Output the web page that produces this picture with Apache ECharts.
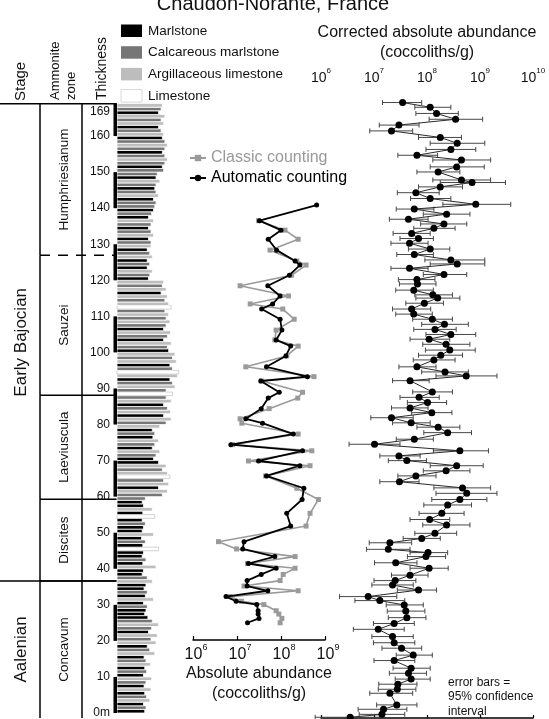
<!DOCTYPE html>
<html><head><meta charset="utf-8">
<script src="https://cdn.jsdelivr.net/npm/echarts@6/dist/echarts.min.js"></script>
<style>html,body{margin:0;padding:0;background:#fff;overflow:hidden}#c{width:549px;height:719px}</style>
</head><body><div id="c"></div>
<script>
const FONT = '"Liberation Sans", Arial, Helvetica, sans-serif';

// ---------- Stratigraphic framework (thickness in m) ----------
const stageNames = ['Aalenian', 'Early Bajocian'];
const stageBase  = [0, 37.7];
const stageTop   = [37.7, 169];
const zoneNames  = ['Concavum', 'Discites', 'Laeviuscula', 'Sauzei', 'Humphriesianum'];
const zoneBase   = [0, 37.7, 60.2, 88.8, 127.3];
const zoneTop    = [37.7, 60.2, 88.8, 127.3, 169];
const zoneBaseDashed = [false, false, false, false, true];
const thicknessTicks = [0,10,20,30,40,50,60,70,80,90,100,110,120,130,140,150,160,169];
const scaleBarBase = [0, 20, 40, 60, 80, 100, 120, 140, 160];
const scaleBarTop  = [10, 30, 50, 70, 90, 110, 130, 150, 169];

// ---------- Lithology (1 m beds from 0 m upward) ----------
const lithNames  = ['Marlstone', 'Calcareous marlstone', 'Argillaceous limestone', 'Limestone'];
const lithColors = ['#000000', '#767676', '#bdbdbd', '#ffffff'];
const lithCode = [
  0,1,0,2,1,0,2,0,1,2,0,1,0,2,1,0,
  2,1,0,2,1,2,0,1,2,1,0,
  0,0,1,0,2,0,1,0,0,2,1,
  0,0,2,0,1,0,0,3,0,1,0,2,0,0,1,0,3,0,2,0,0,1,
  1,2,0,2,1,3,2,1,2,0,
  0,1,2,0,1,2,0,1,0,2,
  1,2,0,2,1,0,2,1,3,1,
  2,1,0,2,3,1,0,2,1,2,0,
  1,2,0,1,2,0,1,2,1,
  2,1,3,2,1,2,0,2,1,2,
  0,1,2,0,1,0,2,1,0,2,
  1,0,2,1,0,1,2,0,1,
  0,1,1,0,2,1,0,1,2,0,1,
  1,0,1,2,1,0,1,2,1,0,
  2,1,0,2,1,2,0,1,2
];
const lithWidth = [
  44,46,42,52,47,44,54,43,46,55,42,47,44,53,46,43,
  60,52,48,62,54,64,50,55,66,56,49,
  44,46,48,42,58,45,48,43,46,56,48,
  40,42,62,41,46,40,42,66,41,45,39,58,40,42,45,40,60,41,56,42,40,45,
  72,80,66,82,74,84,80,72,78,66,
  58,62,68,56,60,66,57,60,56,68,
  78,86,74,85,80,74,86,78,88,78,
  92,88,84,96,98,88,84,94,88,92,82,
  80,86,74,80,85,74,78,84,78,
  82,76,86,82,76,80,70,78,72,74,
  50,52,56,48,52,48,56,52,48,54,
  54,50,58,54,50,54,58,50,55,
  58,60,62,58,66,62,60,62,68,62,64,
  74,72,76,80,76,72,76,80,76,72,
  74,70,66,74,70,76,66,70,72
];

// ---------- Absolute abundance, log10(coccoliths/g) ----------
const midThickness = [141.1,136.8,134.2,131.7,128.7,125.7,124.6,121.8,118.9,116.1,113.9,112.5,109.7,106.7,104.0,102.3,99.6,96.6,93.9,92.7,89.6,88.0,85.1,82.3,81.1,78.1,75.2,73.5,70.7,69.4,66.6,63.2,60.1,56.3,52.8,48.5,46.5,44.4,42.5,41.2,39.5,37.8,36.3,35.0,33.4,32.1,31.2,29.5,28.6,27.4,26.2];
const automaticLog = [8.81,7.51,8.00,7.71,7.90,8.32,8.43,8.19,7.70,7.98,7.81,7.56,7.98,8.02,7.89,8.22,8.11,7.67,8.60,7.54,7.96,7.71,7.55,7.20,7.58,8.28,6.86,8.49,7.49,8.43,7.67,8.52,8.48,8.13,8.22,7.16,7.13,7.86,7.26,7.89,7.55,7.23,7.23,7.70,6.75,6.98,7.45,7.48,7.48,7.50,7.24];
const classicLog   = [null,7.49,8.09,8.39,7.75,8.36,8.57,8.24,7.07,8.17,7.30,8.04,8.30,7.89,7.86,8.39,8.13,7.20,8.75,7.56,8.49,8.38,7.73,7.07,7.11,8.39,6.90,8.70,7.26,8.66,7.65,8.36,8.85,8.66,8.57,6.58,6.99,8.32,7.24,8.32,8.05,7.98,7.16,8.39,6.84,7.10,7.61,7.89,7.95,8.02,7.98];

// ---------- Corrected absolute abundance, log10(coccoliths/g) with 95% CI ----------
const corrThickness = [169.3,168.0,166.3,164.7,163.1,161.5,159.7,158.1,156.4,154.8,153.5,151.6,150.2,148.0,147.3,146.1,144.5,142.9,141.3,140.0,138.6,137.2,135.9,134.7,133.3,131.9,130.6,129.0,127.5,126.0,124.9,123.7,122.0,120.6,119.4,117.7,116.4,115.5,114.1,112.5,111.1,109.7,108.3,106.9,105.5,104.2,102.8,101.2,99.8,98.5,96.6,95.2,94.1,92.8,89.7,88.2,86.8,85.3,84.0,82.6,81.2,80.0,78.5,76.7,75.3,73.5,72.1,70.8,69.4,68.0,66.6,65.0,63.3,61.8,60.1,58.6,56.3,54.6,53.1,50.8,49.4,48.2,46.4,45.5,44.4,42.7,41.2,39.3,37.8,36.6,35.2,33.4,32.3,31.1,29.4,27.6,26.0,24.4,22.4,20.7,19.2,17.3,15.8,13.7,12.3,10.7,9.3,7.9,6.8,3.6,2.4,1.0,0.2];
const corrLog  = [7.54,8.06,8.18,8.54,7.47,7.33,8.25,8.57,8.45,7.81,8.65,8.56,8.21,8.65,8.85,8.25,7.79,8.06,8.92,7.76,8.37,7.65,8.32,8.13,7.71,7.84,7.67,8.06,7.76,8.45,8.57,7.67,8.32,7.81,7.82,7.75,8.11,8.20,7.95,7.71,7.75,8.10,8.33,8.15,8.45,8.04,8.36,8.43,8.26,8.13,7.81,8.34,8.74,7.68,8.10,7.85,8.01,7.68,8.09,7.33,7.70,8.21,8.39,7.76,7.01,8.62,7.47,7.62,8.56,8.36,7.79,7.48,8.67,8.75,8.62,8.39,8.28,8.05,8.37,8.15,7.90,7.30,7.27,8.02,7.98,7.41,8.04,7.68,7.40,7.35,7.84,6.89,7.11,7.57,7.60,7.62,7.38,7.08,7.35,7.38,7.52,7.74,7.38,7.70,7.65,7.70,7.45,7.44,7.30,7.43,7.18,7.15,6.55];
const corrLow  = [7.16,7.77,7.79,8.04,7.10,6.92,7.84,8.06,7.98,7.45,8.11,8.06,7.81,8.11,8.25,7.84,7.44,7.69,8.30,7.42,7.93,7.29,7.88,7.75,7.36,7.49,7.32,7.65,7.43,7.96,8.06,7.32,7.93,7.46,7.48,7.41,7.77,7.79,7.60,7.35,7.41,7.73,7.90,7.75,7.98,7.68,7.92,7.97,7.84,7.74,7.47,7.90,8.17,7.35,7.73,7.49,7.63,7.33,7.71,6.94,7.35,7.81,7.94,7.42,6.53,8.12,7.11,7.27,8.06,7.93,7.45,7.11,8.13,8.17,8.09,7.94,7.85,7.68,7.92,7.77,7.55,6.91,6.86,7.68,7.63,7.01,7.68,7.33,7.00,6.96,7.44,6.35,6.64,7.23,7.25,7.27,6.99,6.61,6.96,6.99,7.15,7.42,7.00,7.36,7.29,7.40,7.09,7.08,6.92,7.05,6.70,6.72,5.89];
const corrHigh = [7.90,8.45,8.59,9.05,7.85,7.73,8.65,9.09,8.92,8.20,9.20,9.08,8.62,9.20,9.48,8.67,8.23,8.45,9.58,8.13,8.81,8.02,8.75,8.53,8.06,8.12,8.02,8.43,8.12,9.09,9.09,8.02,8.75,8.15,8.17,8.12,8.48,8.62,8.31,8.07,8.10,8.48,8.78,8.55,8.92,8.43,8.81,8.91,8.67,8.53,8.17,8.78,9.32,8.04,8.48,8.23,8.37,8.02,8.47,7.74,8.06,8.62,8.84,8.12,7.49,9.16,7.87,7.99,9.06,8.81,8.17,7.85,9.20,9.32,9.13,8.84,8.70,8.43,8.81,8.56,8.25,7.71,7.68,8.39,8.35,7.81,8.40,8.02,7.79,7.74,8.18,7.43,7.58,7.93,7.96,7.98,7.76,7.57,7.74,7.77,7.90,8.10,7.77,8.06,7.99,8.06,7.81,7.79,7.73,7.81,7.62,7.58,7.18];

const titleText = 'Chaudon-Norante, France';

// ---------- helpers ----------
const chart = echarts.init(document.getElementById('c'), null, {renderer: 'canvas'});
const f = (s) => s + 'px ' + FONT;
const T = (text, x, y, size, opts) => Object.assign({
  type: 'text', x: x, y: y,
  style: Object.assign({text: text, font: f(size), fill: '#111', align: 'left', verticalAlign: 'middle',
    textAlign: 'left', textVerticalAlign: 'middle'}, (opts && opts.style) || {})
}, (opts && opts.el) || {});

function renderStage(params, api) {
  const i = params.dataIndex;
  const b = api.value(0), t = api.value(1);
  const yb = api.coord([0, b])[1], yt = api.coord([0, t])[1];
  const x0 = api.coord([0, b])[0], x1 = api.coord([117, b])[0], xt = api.coord([21, b])[0];
  const ch = [{type: 'text', x: xt, y: (yb + yt) / 2, rotation: Math.PI / 2,
    style: {text: stageNames[i], font: f(17), fill: '#111', align: 'center', verticalAlign: 'middle', textAlign: 'center', textVerticalAlign: 'middle'}}];
  if (b > 0) ch.push({type: 'line', shape: {x1: x0, y1: yb, x2: x1, y2: yb}, style: {stroke: '#000', lineWidth: 1.5}});
  if (i === stageNames.length - 1) ch.push({type: 'line', shape: {x1: x0, y1: yt, x2: x1, y2: yt}, style: {stroke: '#000', lineWidth: 1.5}});
  return {type: 'group', children: ch};
}
function renderZone(params, api) {
  const i = params.dataIndex;
  const b = api.value(0), t = api.value(1);
  const yb = api.coord([0, b])[1], yt = api.coord([0, t])[1];
  const xa = api.coord([40, b])[0], xb = api.coord([82, b])[0], xe = api.coord([117, b])[0], xt = api.coord([64, b])[0];
  const ch = [
    {type: 'text', x: xt, y: (yb + yt) / 2, rotation: Math.PI / 2,
      style: {text: zoneNames[i], font: f(13.5), fill: '#111', align: 'center', verticalAlign: 'middle', textAlign: 'center', textVerticalAlign: 'middle'}},
    {type: 'line', shape: {x1: xa, y1: yt, x2: xa, y2: yb}, style: {stroke: '#000', lineWidth: 1.5}},
    {type: 'line', shape: {x1: xb, y1: yt, x2: xb, y2: yb}, style: {stroke: '#000', lineWidth: 1.5}}
  ];
  if (b > 0) ch.push({type: 'line', shape: {x1: xa, y1: yb, x2: xe, y2: yb},
    style: {stroke: '#000', lineWidth: 1.5, lineDash: zoneBaseDashed[i] ? [10, 8] : null}});
  return {type: 'group', children: ch};
}
function renderScaleBar(params, api) {
  const p0 = api.coord([0, api.value(1)]), p1 = api.coord([0, api.value(0)]);
  return {type: 'rect', shape: {x: p0[0] - 3.5, y: p0[1], width: 3.5, height: p1[1] - p0[1]}, style: {fill: '#000'}};
}
function renderLith(params, api) {
  const b = api.value(0), w = api.value(1), c = api.value(2);
  const p0 = api.coord([0, b + 1]), p1 = api.coord([w, b]);
  return {type: 'rect', shape: {x: p0[0], y: p0[1], width: p1[0] - p0[0], height: p1[1] - p0[1]},
    style: {fill: lithColors[c], stroke: c === 3 ? '#c8c8c8' : '#ffffff', lineWidth: 0.8}};
}
function renderErr(params, api) {
  const lo = api.coord([api.value(0), api.value(2)]), hi = api.coord([api.value(1), api.value(2)]);
  const s = {stroke: '#474747', lineWidth: 1};
  return {type: 'group', children: [
    {type: 'line', shape: {x1: lo[0], y1: lo[1], x2: hi[0], y2: hi[1]}, style: s},
    {type: 'line', shape: {x1: lo[0], y1: lo[1] - 2.5, x2: lo[0], y2: lo[1] + 2.5}, style: s},
    {type: 'line', shape: {x1: hi[0], y1: hi[1] - 2.5, x2: hi[0], y2: hi[1] + 2.5}, style: s}
  ]};
}
const powLabel = (v) => '{b|10}{s|' + v + '}';

const hiddenY = (g) => ({gridIndex: g, type: 'value', min: 0, max: 170, show: false});

const graphic = [
  T(titleText, 273, 4.5, 20, {style: {align: 'center', textAlign: 'center'}}),
  T('Stage', 21, 101, 15, {el: {rotation: Math.PI / 2}}),
  T('Ammonite', 55, 100, 13, {el: {rotation: Math.PI / 2}}),
  T('zone', 71, 100, 13, {el: {rotation: Math.PI / 2}}),
  T('Thickness', 102, 100, 14, {el: {rotation: Math.PI / 2}}),
  T('error bars =\n95% confidence\ninterval', 448, 697, 12, {style: {lineHeight: 14.5}})
];
lithNames.forEach((n, i) => {
  graphic.push({type: 'rect', shape: {x: 121, y: 24.5 + i * 21.7, width: 21, height: 12.5},
    style: {fill: lithColors[i], stroke: i === 3 ? '#d8d8d8' : null, lineWidth: 1}});
  graphic.push(T(n, 148, 31 + i * 21.7, 13.5));
});

const option = {
  animation: false,
  backgroundColor: '#ffffff',
  textStyle: {fontFamily: FONT},
  grid: [
    {left: 0, top: 100, width: 117, height: 618},
    {left: 117, top: 100, width: 63, height: 618},
    {left: 193, top: 100, width: 132, height: 618},
    {left: 193, top: 600, width: 132, height: 40},
    {left: 321, top: 100, width: 212, height: 618}
  ],
  xAxis: [
    {gridIndex: 0, type: 'value', min: 0, max: 117, show: false},
    {gridIndex: 1, type: 'value', min: 0, max: 100, show: false},
    {gridIndex: 2, type: 'value', min: 6, max: 9, show: false},
    {gridIndex: 3, type: 'value', min: 6, max: 9, interval: 1, position: 'bottom',
      axisLine: {lineStyle: {color: '#000', width: 1.5}},
      axisTick: {inside: true, length: 4, lineStyle: {color: '#000', width: 1.2}},
      splitLine: {show: false},
      axisLabel: {margin: 3, formatter: powLabel, rich: {
        b: {fontSize: 16, fontFamily: FONT, color: '#111', lineHeight: 20, verticalAlign: 'bottom', padding: [0, 0, 0, 6]},
        s: {fontSize: 9, fontFamily: FONT, color: '#111', verticalAlign: 'top', lineHeight: 20}}},
      name: 'Absolute abundance\n(coccoliths/g)', nameLocation: 'middle', nameGap: 20,
      nameTextStyle: {fontSize: 16, fontFamily: FONT, color: '#111', lineHeight: 20}},
    {gridIndex: 4, type: 'value', min: 6, max: 10, interval: 1, position: 'top', offset: 9,
      axisLine: {lineStyle: {color: '#000', width: 1.5}},
      axisTick: {inside: false, length: 3, lineStyle: {color: '#000', width: 1.2}},
      splitLine: {show: false},
      axisLabel: {margin: 6, formatter: powLabel, rich: {
        b: {fontSize: 14, fontFamily: FONT, color: '#111', lineHeight: 18, verticalAlign: 'bottom'},
        s: {fontSize: 8, fontFamily: FONT, color: '#111', verticalAlign: 'top', lineHeight: 18}}},
      name: 'Corrected absolute abundance\n(coccoliths/g)', nameLocation: 'middle', nameGap: 26,
      nameTextStyle: {fontSize: 16, fontFamily: FONT, color: '#111', lineHeight: 20}}
  ],
  yAxis: [
    hiddenY(0),
    {gridIndex: 1, type: 'value', min: 0, max: 170,
      axisLine: {show: false}, axisTick: {show: false}, splitLine: {show: false},
      axisLabel: {customValues: thicknessTicks, margin: 7, fontSize: 12, color: '#111', fontFamily: FONT,
        formatter: (v) => v === 0 ? '0m' : (v === 169 ? '{t|169}' : String(v)),
        rich: {t: {fontSize: 12, color: '#111', fontFamily: FONT, padding: [16, 0, 0, 0]}}}},
    hiddenY(2),
    {gridIndex: 3, type: 'value', min: 0, max: 1, show: false},
    hiddenY(4)
  ],
  legend: {
    orient: 'vertical', left: 184, top: 145, itemWidth: 16, itemHeight: 8, itemGap: 4,
    selectedMode: false,
    textStyle: {fontSize: 16, fontFamily: FONT},
    data: [
      {name: 'Classic counting', textStyle: {color: '#999999'}},
      {name: 'Automatic counting', textStyle: {color: '#000000'}}
    ]
  },
  series: [
    {type: 'custom', xAxisIndex: 0, yAxisIndex: 0, renderItem: renderStage, silent: true,
      encode: {y: [0, 1]}, data: stageNames.map((n, i) => [stageBase[i], stageTop[i]])},
    {type: 'custom', xAxisIndex: 0, yAxisIndex: 0, renderItem: renderZone, silent: true,
      encode: {y: [0, 1]}, data: zoneNames.map((n, i) => [zoneBase[i], zoneTop[i]])},
    {type: 'custom', xAxisIndex: 1, yAxisIndex: 1, renderItem: renderLith, silent: true,
      encode: {x: 1, y: 0}, data: lithCode.map((c, i) => [i, lithWidth[i], c])},
    {type: 'custom', xAxisIndex: 1, yAxisIndex: 1, renderItem: renderScaleBar, silent: true, z: 5,
      encode: {y: [0, 1]}, data: scaleBarBase.map((b, i) => [b, scaleBarTop[i]])},
    {name: 'Classic counting', type: 'line', xAxisIndex: 2, yAxisIndex: 2, z: 2,
      symbol: 'rect', symbolSize: 5, showAllSymbol: true,
      itemStyle: {color: '#9a9a9a'}, lineStyle: {color: '#9a9a9a', width: 1.6},
      data: midThickness.map((t, i) => [classicLog[i], t]).filter(d => d[0] !== null)},
    {name: 'Automatic counting', type: 'line', xAxisIndex: 2, yAxisIndex: 2, z: 3,
      symbol: 'circle', symbolSize: 5, showAllSymbol: true,
      itemStyle: {color: '#000'}, lineStyle: {color: '#000', width: 1.8},
      data: midThickness.map((t, i) => [automaticLog[i], t])},
    {type: 'custom', xAxisIndex: 4, yAxisIndex: 4, renderItem: renderErr, silent: true, z: 1,
      encode: {x: [0, 1], y: 2}, data: corrThickness.map((t, i) => [corrLow[i], corrHigh[i], t])},
    {name: 'Corrected', type: 'line', xAxisIndex: 4, yAxisIndex: 4, z: 3,
      symbol: 'circle', symbolSize: 7, showAllSymbol: true,
      itemStyle: {color: '#000'}, lineStyle: {color: '#2a2a2a', width: 1},
      data: corrThickness.map((t, i) => [corrLog[i], t])}
  ],
  graphic: graphic
};
chart.setOption(option);
</script></body></html>
